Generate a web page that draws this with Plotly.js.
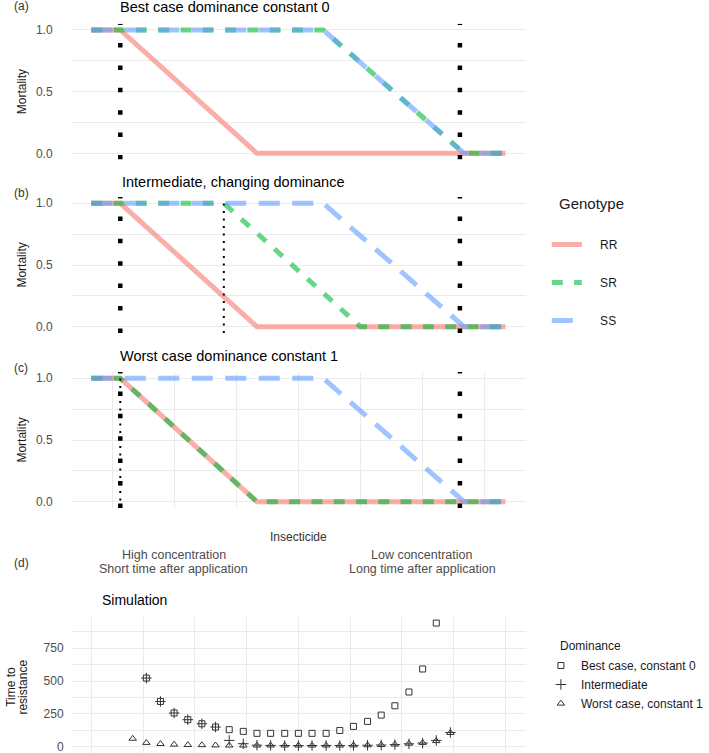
<!DOCTYPE html>
<html>
<head>
<meta charset="utf-8">
<script src="https://cdn.plot.ly/plotly-3.0.1.min.js"></script>
<style>html,body{margin:0;padding:0;background:#fff;}#chart{width:709px;height:753px;}</style>
</head>
<body>
<div id="chart"></div>
<script>
// ---------------- data ----------------
const genotypes = ['RR', 'SR', 'SS'];
const mortalityY = [1, 1, 0, 0];
// insecticide axis (High concentration -> Low concentration), mortality curves
const rrX = [0, 0.07, 0.40, 1];
const ssX = [0, 0.56, 0.90, 1];
const srXBest = [0, 0.56, 0.90, 1];
const srXInter = [0, 0.32, 0.65, 1];
const srXWorst = [0, 0.07, 0.40, 1];
const windowLow = 0.07;   // lower threshold (thick dotted)
const windowHigh = 0.89;  // upper threshold (thick dotted)
const dominanceInter = 0.32; // thin dotted, intermediate
const dominanceWorst = 0.07; // thin dotted, worst case
const panelTitles = ['Best case dominance constant 0', 'Intermediate, changing dominance', 'Worst case dominance constant 1'];
const panelTags = ['(a)', '(b)', '(c)', '(d)'];
const axisLabelsHigh = ['High concentration', 'Short time after application'];
const axisLabelsLow = ['Low concentration', 'Long time after application'];

// simulation panel (d)
const simX = [0.100, 0.133, 0.167, 0.200, 0.233, 0.267, 0.300, 0.333, 0.367, 0.400, 0.433, 0.467,
              0.500, 0.533, 0.567, 0.600, 0.633, 0.667, 0.700, 0.733, 0.767, 0.800, 0.833, 0.867];
const simBest = [null, 523, 345, 257, 206, 175, 150, 130, 117, 102, 102, 102,
                 102, 102, 102, 124, 155, 193, 241, 312, 417, 592, 942, null];
const simInter = [null, 523, 345, 257, 206, 175, 150, 48, 23, 12, 10, 9,
                  9, 9, 9, 9, 10, 11, 13, 16, 22, 28, 48, 108];
const simWorst = [62, 30, 22, 17, 14, 13, 11, 10, 10, 10, 10, 10,
                  10, 10, 10, 10, 11, 12, 14, 18, 24, 30, 44, 106];
const dominanceNames = ['Best case, constant 0', 'Intermediate', 'Worst case, constant 1'];
const mortTickVals = [0, 0.25, 0.5, 0.75, 1];
const mortTickText = ['0.0', '', '0.5', '', '1.0'];
const simTickVals = [0, 125, 250, 375, 500, 625, 750, 875];
const simTickText = ['0', '', '250', '', '500', '', '750', ''];

// ---------------- layout helpers ----------------
const W = 709, H = 753;
const FONT = '"Liberation Sans", Arial, Helvetica, sans-serif';
const fx = p => p / W;
const fy = p => 1 - p / H;
const colors = {RR: '#F8766D', SR: '#00BA38', SS: '#619CFF'};
const dashes = {RR: 'solid', SR: '11px,11.3px', SS: '21px,12.5px'};
const srX = [srXBest, srXInter, srXWorst];
const PAD = '\u00a0\u00a0\u00a0\u00a0';

const traces = [];
for (let p = 0; p < 3; p++) {
  const xa = 'x' + (p === 0 ? '' : p + 1), ya = 'y' + (p === 0 ? '' : p + 1);
  const xs = {RR: rrX, SR: srX[p], SS: ssX};
  genotypes.forEach(g => {
    traces.push({
      type: 'scatter', mode: 'lines', x: xs[g], y: mortalityY, xaxis: xa, yaxis: ya,
      name: PAD + g, legendgroup: g, showlegend: p === 0, legend: 'legend',
      opacity: 0.6, line: {color: colors[g], width: 5, dash: dashes[g]}, hoverinfo: 'skip'
    });
  });
  // thin dotted dominance lines
  const dom = [null, dominanceInter, dominanceWorst][p];
  if (dom !== null) {
    traces.push({type: 'scatter', mode: 'lines', x: [dom, dom], y: [-0.05, 1.0], xaxis: xa, yaxis: ya,
      showlegend: false, line: {color: '#000', width: 2, dash: '2px,5.5px'}, hoverinfo: 'skip'});
  }
  // thick square-dotted window lines
  [windowLow, windowHigh].forEach(v => {
    traces.push({type: 'scatter', mode: 'lines', x: [v, v], y: [-0.05, 1.05], xaxis: xa, yaxis: ya,
      showlegend: false, line: {color: '#000', width: 4.5, dash: '4.5px,17.9px'}, hoverinfo: 'skip'});
  });
}
const symbols = ['square-open', 'cross-thin-open', 'triangle-up-open'];
const symSizes = [6, 7.5, 6.5];
[simBest, simInter, simWorst].forEach((ys, k) => {
  traces.push({type: 'scatter', mode: 'markers', x: simX, y: ys, xaxis: 'x4', yaxis: 'y4',
    name: dominanceNames[k], legend: 'legend2', legendgroup: 'd' + k, showlegend: true,
    marker: {symbol: symbols[k], size: symSizes[k], color: '#333', line: {color: '#333', width: 1}},
    hoverinfo: 'skip'});
});

const xDom = [fx(71.9), fx(536)];
const yDoms = [[fy(159.5), fy(23.8)], [fy(332.9), fy(197.1)], [fy(507.9), fy(372.1)], [fy(752.5), fy(616.9)]];
const grid = '#EBEBEB';
const tickFont = {family: FONT, size: 12, color: '#4D4D4D'};

const layout = {
  width: W, height: H, margin: {l: 0, r: 0, t: 0, b: 0},
  paper_bgcolor: '#fff', plot_bgcolor: '#fff', font: {family: FONT, color: '#1a1a1a'},
  showlegend: true,
  legend: {x: fx(557), y: fy(230), xanchor: 'left', yanchor: 'top', bgcolor: 'rgba(0,0,0,0)',
    font: {family: FONT, size: 12, color: '#1a1a1a'}, traceorder: 'grouped', tracegroupgap: 19},
  legend2: {x: fx(551), y: fy(651), xanchor: 'left', yanchor: 'top', bgcolor: 'rgba(0,0,0,0)',
    font: {family: FONT, size: 12, color: '#1a1a1a'}, traceorder: 'grouped', tracegroupgap: 0},
  annotations: [],
};
for (let p = 0; p < 4; p++) {
  const sfx = p === 0 ? '' : String(p + 1);
  const xax = {domain: xDom, range: [-0.05, 1.05], showticklabels: false, zeroline: false, showline: false,
    ticks: '', showgrid: false, fixedrange: true};
  if (p === 2) { xax.showgrid = true; xax.gridcolor = grid; xax.gridwidth = 1; xax.tickmode = 'array';
    xax.tickvals = [0.05, 0.2, 0.35, 0.5, 0.65, 0.8, 0.95]; }
  if (p === 3) { xax.showgrid = true; xax.gridcolor = grid; xax.gridwidth = 1; xax.tickmode = 'array';
    xax.tickvals = [0, 0.125, 0.25, 0.375, 0.5, 0.625, 0.75, 0.875, 1]; }
  layout['xaxis' + sfx] = Object.assign(xax, {anchor: 'y' + sfx});
  const yax = {domain: yDoms[p], zeroline: false, showline: false, ticks: '', showgrid: true, gridcolor: grid,
    gridwidth: 1, tickmode: 'array', tickfont: tickFont, fixedrange: true, anchor: 'x' + sfx,
    ticklabeloverflow: 'allow'};
  if (p < 3) { yax.range = [-0.05, 1.05]; yax.tickvals = mortTickVals; yax.ticktext = mortTickText; yax.ticklabelstandoff = 17; }
  else { yax.range = [-44, 989]; yax.tickvals = simTickVals; yax.ticktext = simTickText; yax.ticklabelstandoff = 6; }
  layout['yaxis' + sfx] = yax;
}
function ann(text, px, py, o) {
  layout.annotations.push(Object.assign({text: text, xref: 'paper', yref: 'paper', x: fx(px), y: fy(py),
    xanchor: 'left', yanchor: 'middle', showarrow: false, font: {family: FONT, size: 12, color: '#1a1a1a'}}, o || {}));
}
const titleY = [7, 182, 356];
const tagY = [6, 193, 368];
const titleX = [120, 122, 120];
for (let p = 0; p < 3; p++) {
  ann(panelTitles[p], titleX[p], titleY[p], {font: {family: FONT, size: 14.5, color: '#000'}});
  ann(panelTags[p], 12, tagY[p], {font: {family: FONT, size: 12, color: '#333'}});
  ann('Mortality', 22, H * (1 - (yDoms[p][0] + yDoms[p][1]) / 2), {xanchor: 'center', textangle: -90});
}
ann(panelTags[3], 12, 563, {font: {family: FONT, size: 12, color: '#333'}});
ann('Simulation', 102, 600, {font: {family: FONT, size: 14, color: '#000'}});
ann('Insecticide', 304, 537, {xanchor: 'center', font: {family: FONT, size: 12, color: '#333'}});
ann(axisLabelsHigh[0], 177, 555, {xanchor: 'center', font: {family: FONT, size: 12.5, color: '#4D4D4D'}});
ann(axisLabelsHigh[1], 177, 568.5, {xanchor: 'center', font: {family: FONT, size: 12.5, color: '#4D4D4D'}});
ann(axisLabelsLow[0], 430, 555, {xanchor: 'center', font: {family: FONT, size: 12.5, color: '#4D4D4D'}});
ann(axisLabelsLow[1], 430, 568.5, {xanchor: 'center', font: {family: FONT, size: 12.5, color: '#4D4D4D'}});
ann('Time to', 11, 687, {xanchor: 'center', textangle: -90});
ann('resistance', 23, 687, {xanchor: 'center', textangle: -90});
ann('Genotype', 567, 203, {font: {family: FONT, size: 15, color: '#1a1a1a'}});
ann('Dominance', 568, 646, {font: {family: FONT, size: 12, color: '#1a1a1a'}});

Plotly.newPlot('chart', traces, layout, {staticPlot: true, displayModeBar: false});
</script>
</body>
</html>
